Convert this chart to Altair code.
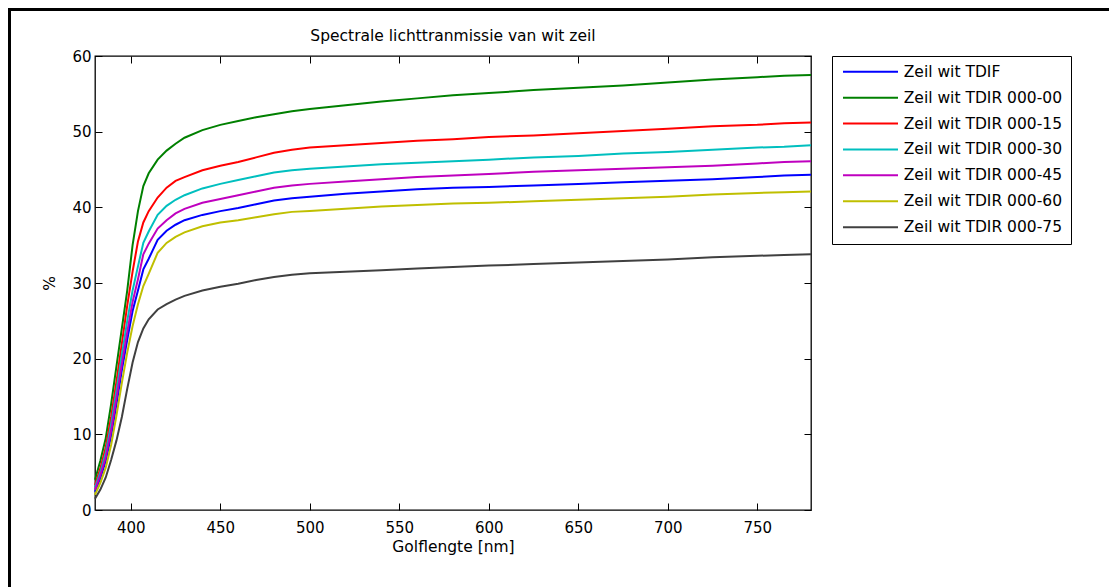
import altair as alt
import pandas as pd

# wavelength grid [nm]
wavelength = [380, 383, 386, 389, 392, 395, 398, 401, 404, 407, 410, 415, 420, 425, 430,
              440, 450, 460, 470, 480, 490, 500, 520, 540, 560, 580, 600, 625, 650, 675,
              700, 725, 750, 765, 780]

tdif = [2.4, 4.2, 6.5, 9.8, 14.0, 18.5, 22.5, 26.3, 29.0, 31.8, 33.2, 35.7, 36.9, 37.7, 38.3,
        39.0, 39.5, 39.9, 40.4, 40.9, 41.2, 41.4, 41.8, 42.1, 42.4, 42.6, 42.7, 42.9, 43.1, 43.3,
        43.5, 43.7, 44.0, 44.2, 44.3]
tdir_00 = [4.0, 6.5, 9.5, 14.0, 19.0, 24.0, 29.0, 35.0, 39.5, 42.8, 44.5, 46.3, 47.5, 48.4, 49.2,
           50.2, 50.9, 51.4, 51.9, 52.3, 52.7, 53.0, 53.5, 54.0, 54.4, 54.8, 55.1, 55.5, 55.8, 56.1,
           56.5, 56.9, 57.2, 57.4, 57.5]
tdir_15 = [3.3, 5.5, 8.3, 12.3, 17.0, 22.0, 27.0, 31.5, 35.5, 38.0, 39.5, 41.3, 42.6, 43.5, 44.0,
           44.9, 45.5, 46.0, 46.6, 47.2, 47.6, 47.9, 48.2, 48.5, 48.8, 49.0, 49.3, 49.5, 49.8, 50.1,
           50.4, 50.7, 50.9, 51.1, 51.2]
tdir_30 = [3.0, 5.0, 7.6, 11.3, 15.8, 20.5, 25.0, 29.0, 32.2, 35.3, 36.8, 39.0, 40.2, 41.0, 41.6,
           42.5, 43.1, 43.6, 44.1, 44.6, 44.9, 45.1, 45.4, 45.7, 45.9, 46.1, 46.3, 46.6, 46.8, 47.1,
           47.3, 47.6, 47.9, 48.0, 48.2]
tdir_45 = [2.7, 4.6, 7.0, 10.5, 14.8, 19.3, 23.5, 27.5, 30.5, 33.8, 35.2, 37.2, 38.3, 39.2, 39.8,
           40.6, 41.1, 41.6, 42.1, 42.6, 42.9, 43.1, 43.4, 43.7, 44.0, 44.2, 44.4, 44.7, 44.9, 45.1,
           45.3, 45.5, 45.8, 46.0, 46.1]
tdir_60 = [2.0, 3.6, 5.6, 8.6, 12.5, 16.8, 20.8, 24.3, 27.2, 29.6, 31.2, 34.0, 35.3, 36.1, 36.7,
           37.5, 38.0, 38.3, 38.7, 39.1, 39.4, 39.5, 39.8, 40.1, 40.3, 40.5, 40.6, 40.8, 41.0, 41.2,
           41.4, 41.7, 41.9, 42.0, 42.1]
tdir_75 = [1.5, 2.7, 4.3, 6.6, 9.2, 12.3, 16.0, 19.5, 22.2, 24.0, 25.2, 26.5, 27.2, 27.8, 28.3,
           29.0, 29.5, 29.9, 30.4, 30.8, 31.1, 31.3, 31.5, 31.7, 31.9, 32.1, 32.3, 32.5, 32.7, 32.9,
           33.1, 33.4, 33.6, 33.7, 33.8]

series_names = ["Zeil wit TDIF", "Zeil wit TDIR 000-00", "Zeil wit TDIR 000-15",
                "Zeil wit TDIR 000-30", "Zeil wit TDIR 000-45", "Zeil wit TDIR 000-60",
                "Zeil wit TDIR 000-75"]
series_values = [tdif, tdir_00, tdir_15, tdir_30, tdir_45, tdir_60, tdir_75]
series_colors = ["#0000ff", "#008000", "#ff0000", "#00bfbf", "#bf00bf", "#bfbf00", "#404040"]

x_ticks = [400, 450, 500, 550, 600, 650, 700, 750]
y_ticks = [0, 10, 20, 30, 40, 50, 60]

rows = []
for name, vals in zip(series_names, series_values):
    for w, v in zip(wavelength, vals):
        rows.append({"nm": w, "series": name, "value": v})
df = pd.DataFrame(rows)

FONT = "DejaVu Sans"
xscale = alt.Scale(domain=[380, 780], nice=False, zero=False)
yscale = alt.Scale(domain=[0, 60], nice=False)

lines = alt.Chart(df).mark_line(strokeWidth=2).encode(
    x=alt.X("nm:Q", scale=xscale,
            axis=alt.Axis(orient="bottom", values=x_ticks, offset=-7, tickSize=7,
                          domain=False, grid=False, labelPadding=10.5,
                          title="Golflengte [nm]", titlePadding=4)),
    y=alt.Y("value:Q", scale=yscale,
            axis=alt.Axis(orient="left", values=y_ticks, offset=-7, tickSize=7,
                          domain=False, grid=False, labelPadding=4,
                          title="%", titlePadding=14)),
    color=alt.Color("series:N",
                    scale=alt.Scale(domain=series_names, range=series_colors),
                    legend=alt.Legend(title=None, orient="none", legendX=737, legendY=0,
                                      padding=8, strokeColor="black", fillColor="white",
                                      symbolType="M-5,0L5,0", symbolSize=121,
                                      symbolStrokeWidth=2, symbolOffset=22.75,
                                      labelOffset=25.5, rowPadding=8.9,
                                      labelFontSize=15.5, labelFont=FONT,
                                      labelColor="black", labelLimit=400)),
    order=alt.Order("nm:Q"),
)

mirror = alt.Chart(df).mark_point(opacity=0).encode(
    x=alt.X("nm:Q", scale=xscale,
            axis=alt.Axis(orient="top", values=x_ticks, offset=-7, tickSize=7,
                          domain=False, grid=False, labels=False, title=None)),
    y=alt.Y("value:Q", scale=yscale,
            axis=alt.Axis(orient="right", values=y_ticks, offset=-7, tickSize=7,
                          domain=False, grid=False, labels=False, title=None)),
)

frame_left = alt.Chart(df).mark_rule(color="black", strokeWidth=2).encode(
    x=alt.value(-85.7), y=alt.value(-46.7), y2=alt.value(600))
frame_top = alt.Chart(df).mark_rule(color="black", strokeWidth=2).encode(
    y=alt.value(-46.7), x=alt.value(-86.7), x2=alt.value(1100))

chart = alt.layer(frame_left, frame_top, lines, mirror).resolve_axis(
    x="independent", y="independent"
).properties(
    width=716, height=454,
    background="white",
    autosize=alt.AutoSizeParams(type="none"),
    padding={"left": 95, "top": 56, "right": 298, "bottom": 77},
    title=alt.TitleParams("Spectrale lichttranmissie van wit zeil", fontSize=15.5,
                          font=FONT, fontWeight="normal", color="black",
                          anchor="middle", offset=-35.7),
).configure_view(
    stroke="black", strokeWidth=1.3
).configure_axis(
    labelFont=FONT, labelFontSize=15, labelColor="black",
    titleFont=FONT, titleFontSize=15.5, titleFontWeight="normal", titleColor="black",
    tickColor="black", tickWidth=1
)

chart.save("out.html", embed_options={"renderer": "svg", "actions": False})
